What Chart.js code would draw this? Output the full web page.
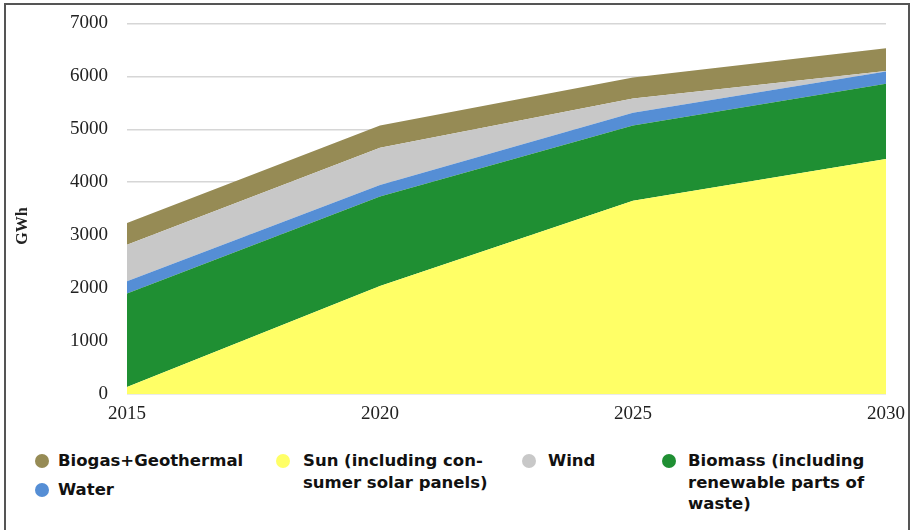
<!DOCTYPE html>
<html>
<head>
<meta charset="utf-8">
<script src="https://cdn.jsdelivr.net/npm/chart.js@4.4.1/dist/chart.umd.min.js"></script>
<style>
  html, body { margin: 0; padding: 0; background: #fff; }
  #wrap { position: relative; width: 914px; height: 530px; overflow: hidden; }
  #frame { position: absolute; left: 4px; top: 3px; width: 902px; height: 560px;
    border: 2px solid #555; border-bottom: none; }
  #chart { position: absolute; left: 0; top: -7px; }
  .item { position: absolute; font-family: "DejaVu Sans", sans-serif; font-weight: bold;
    font-size: 16.5px; line-height: 21.5px; color: #111; white-space: nowrap; }
  .dot { position: absolute; width: 14px; height: 14px; border-radius: 50%; }
</style>
</head>
<body>
<div id="wrap">
  <div id="frame"></div>
  <canvas id="chart" width="914" height="437"></canvas>
  <div id="legend"></div>
</div>
<script>
const years = [2015, 2020, 2025, 2030];
const sun = [130, 2040, 3650, 4440];
const biomass = [1770, 1690, 1420, 1420];
const water = [230, 220, 240, 230];
const wind = [690, 700, 270, 10];
const biogas = [410, 420, 400, 430];
const yTicks = [0, 1000, 2000, 3000, 4000, 5000, 6000, 7000];

// bottom-up stacking order
const series = [
  { label: 'Sun (including consumer solar panels)', values: sun, color: '#ffff66' },
  { label: 'Biomass (including renewable parts of waste)', values: biomass, color: '#1f8f33' },
  { label: 'Water', values: water, color: '#558ed5' },
  { label: 'Wind', values: wind, color: '#c8c8c8' },
  { label: 'Biogas+Geothermal', values: biogas, color: '#968b55' }
];

const legendItems = [
  { lines: ['Biogas+Geothermal'], color: '#968b55', dotX: 42, textX: 58, y: 461 },
  { lines: ['Water'], color: '#558ed5', dotX: 42, textX: 58, y: 490 },
  { lines: ['Sun (including con-', 'sumer solar panels)'], color: '#ffff66', dotX: 283, textX: 303, y: 461 },
  { lines: ['Wind'], color: '#c8c8c8', dotX: 529, textX: 548, y: 461 },
  { lines: ['Biomass (including', 'renewable parts of', 'waste)'], color: '#1f8f33', dotX: 669, textX: 688, y: 461 }
];

const legend = document.getElementById('legend');
for (const item of legendItems) {
  const dot = document.createElement('div');
  dot.className = 'dot';
  dot.style.background = item.color;
  dot.style.left = (item.dotX - 7) + 'px';
  dot.style.top = (item.y - 7) + 'px';
  legend.appendChild(dot);

  const text = document.createElement('div');
  text.className = 'item';
  text.style.left = item.textX + 'px';
  text.style.top = (item.y - 11) + 'px';
  text.innerHTML = item.lines.join('<br>');
  legend.appendChild(text);
}

// canvas sits 7px above the page top, so page y = canvas y - 7
const axisTitle = {
  id: 'axisTitle',
  afterDraw(chart) {
    const ctx = chart.ctx;
    ctx.save();
    ctx.translate(23, 233);
    ctx.rotate(-Math.PI / 2);
    ctx.font = 'bold 16px "Liberation Serif", serif';
    ctx.fillStyle = '#222';
    ctx.textAlign = 'center';
    ctx.textBaseline = 'middle';
    ctx.fillText('GWh', 0, 0);
    ctx.restore();
  }
};

const tickFont = { family: '"Liberation Serif", serif', size: 19 };

new Chart(document.getElementById('chart'), {
  type: 'line',
  data: {
    datasets: series.map((s, i) => ({
      label: s.label,
      data: years.map((x, j) => ({ x: x, y: s.values[j] })),
      backgroundColor: s.color,
      borderWidth: 0,
      pointRadius: 0,
      tension: 0,
      fill: i === 0 ? 'origin' : '-1'
    }))
  },
  options: {
    responsive: false,
    animation: false,
    layout: { padding: { left: 0, right: 27, top: 17, bottom: 0 } },
    plugins: { legend: { display: false }, tooltip: { enabled: false } },
    scales: {
      x: {
        type: 'linear',
        min: 2015,
        max: 2030,
        grid: { display: false, drawTicks: false },
        border: { display: false },
        afterBuildTicks: scale => { scale.ticks = years.map(v => ({ value: v })); },
        ticks: {
          font: tickFont,
          color: '#222',
          padding: 9,
          maxRotation: 0,
          callback: v => String(v)
        },
        afterFit: scale => { scale.height = 36; }
      },
      y: {
        stacked: true,
        min: 0,
        max: 7000,
        grid: { color: '#d6d6d6', lineWidth: 1.5, drawTicks: false },
        border: { display: false },
        afterBuildTicks: scale => { scale.ticks = yTicks.map(v => ({ value: v })); },
        ticks: { font: tickFont, color: '#222', padding: 19, callback: v => String(v) },
        afterFit: scale => { scale.width = 127; }
      }
    }
  },
  plugins: [axisTitle]
});
</script>
</body>
</html>
